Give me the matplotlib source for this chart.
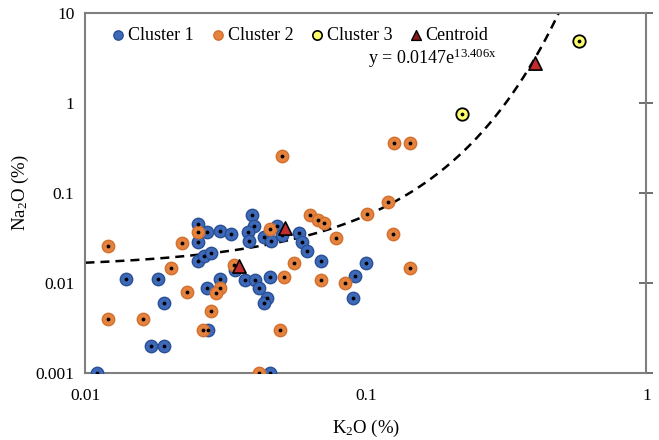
import numpy as np
import matplotlib
matplotlib.use("Agg")
import matplotlib.pyplot as plt

plt.rcParams['font.family'] = ['Liberation Serif', 'DejaVu Serif']
plt.rcParams['mathtext.fontset'] = 'stix'

# cluster 1 (blue)
c1_x = [0.011, 0.014, 0.0181, 0.0191, 0.0171, 0.0191, 0.0251, 0.0251, 0.0252, 0.0265,
        0.0281, 0.0272, 0.0302, 0.0331, 0.0302, 0.0272, 0.0273, 0.0342, 0.0371, 0.0403,
        0.0414, 0.0392, 0.040, 0.0381, 0.0383, 0.0432, 0.0458, 0.0482, 0.0503, 0.0575,
        0.0592, 0.0617, 0.069, 0.1004, 0.0917, 0.0902, 0.0456, 0.0444, 0.0432, 0.0453]
c1_y = [0.001, 0.011, 0.011, 0.006, 0.002, 0.002, 0.045, 0.0285, 0.0177, 0.0198,
        0.0216, 0.0365, 0.0374, 0.0353, 0.011, 0.0088, 0.003, 0.0138, 0.0109, 0.0109,
        0.0088, 0.0563, 0.0425, 0.0368, 0.0292, 0.0325, 0.029, 0.0431, 0.0338, 0.0356,
        0.0285, 0.0224, 0.0177, 0.0167, 0.0119, 0.0069, 0.0117, 0.0069, 0.006, 0.001]

# cluster 2 (orange)
c2_x = [0.012, 0.012, 0.0161, 0.0201, 0.0221, 0.0251, 0.0231, 0.0302, 0.0292, 0.0281,
        0.0262, 0.0339, 0.0454, 0.0502, 0.0495, 0.0414, 0.0553, 0.0512, 0.0631, 0.0677,
        0.0707, 0.0693, 0.0781, 0.0845, 0.1008, 0.120, 0.1244, 0.1257, 0.143, 0.143]
c2_y = [0.0255, 0.004, 0.004, 0.0148, 0.0278, 0.037, 0.0079, 0.0088, 0.0078, 0.0049,
        0.003, 0.0158, 0.0401, 0.26, 0.003, 0.001, 0.0166, 0.0118, 0.0575, 0.0496,
        0.0459, 0.0108, 0.0317, 0.0099, 0.0588, 0.0795, 0.0351, 0.356, 0.36, 0.0148]

# cluster 3 (yellow)
c3_x = [0.2206, 0.574]
c3_y = [0.75, 4.9]

# centroids
cen_x = [0.0353, 0.0513, 0.402]
cen_y = [0.0155, 0.041, 2.8]

# exponential trend line  y = a * exp(b x)
trend_a = 0.0147
trend_b = 13.406

fig = plt.figure(figsize=(6.59, 4.40), dpi=100)
ax = fig.add_axes([0.1297, 0.1523, 0.8513, 0.818])

xt = np.linspace(0.01, 0.49, 400)
ax.plot(xt, trend_a * np.exp(trend_b * xt), color='black', lw=1.8,
        dashes=(3.6, 2.4), zorder=2)

dot_kw = dict(s=3, color='black', zorder=4)
ax.scatter(c1_x, c1_y, s=80, color='#3D69B8', edgecolors='#2A5096',
           linewidths=1.0, zorder=3)
ax.scatter(c1_x, c1_y, **dot_kw)
ax.scatter(c2_x, c2_y, s=80, color='#E5823E', edgecolors='#D2702F',
           linewidths=1.0, zorder=3)
ax.scatter(c2_x, c2_y, **dot_kw)
ax.scatter(c3_x, c3_y, s=80, color='#FFFF6E', edgecolors='black',
           linewidths=1.3, zorder=3)
ax.scatter(c3_x, c3_y, **dot_kw)
ax.scatter(cen_x, cen_y, s=90, marker='^', color='#C42B2F',
           edgecolors='black', linewidths=1.2, zorder=5)

ax.set_xscale('log')
ax.set_yscale('log')
ax.set_xlim(0.01, 1)
ax.set_ylim(0.001, 10)
ax.set_xticks([0.01, 0.1, 1])
ax.set_xticklabels(['0.01', '0.1', '1'])
ax.set_yticks([0.001, 0.01, 0.1, 1, 10])
ax.set_yticklabels(['0.001', '0.01', '0.1', '1', '10'])
ax.minorticks_off()
ax.tick_params(axis='x', bottom=False, labelsize=12.5, pad=7)
ax.tick_params(axis='y', left=False, right=True, direction='inout',
               length=10, width=1.2, color='#555555', labelsize=12.5, pad=3)

for sp in ax.spines.values():
    sp.set_color('#7f7f7f')
    sp.set_linewidth(1.5)

ax.set_xlabel(r'$\mathregular{K_2O}$ (%)', fontsize=13.5, labelpad=10)
ax.set_ylabel(r'$\mathregular{Na_2O}$ (%)', fontsize=13.5, labelpad=3)

ax.text(0.503, 0.875, r'y = 0.0147e$^{\mathregular{13.406x}}$',
        transform=ax.transAxes, fontsize=13, va='center', ha='left')

h1 = ax.scatter([], [], s=45, color='#3D69B8', edgecolors='#2A5096')
h2 = ax.scatter([], [], s=45, color='#E5823E', edgecolors='#D2702F')
h3 = ax.scatter([], [], s=45, color='#FFFF6E', edgecolors='black', linewidths=1.2)
h4 = ax.scatter([], [], s=50, marker='^', color='#8B1A1A', edgecolors='black')
ax.legend([h1, h2, h3, h4], ['Cluster 1', 'Cluster 2', 'Cluster 3', 'Centroid'],
          loc='center left', bbox_to_anchor=(0.025, 0.938), ncol=4, frameon=False,
          handletextpad=0.0, columnspacing=0.75, handlelength=1.1,
          borderpad=0, fontsize=13)

plt.savefig('out.png', dpi=100)
